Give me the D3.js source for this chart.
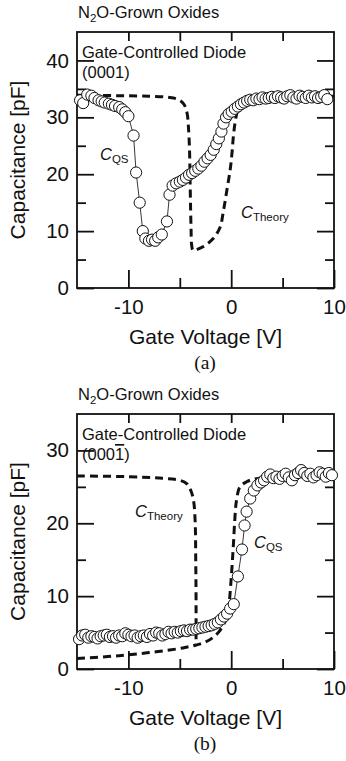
<!DOCTYPE html>
<html>
<head>
<meta charset="utf-8">
<script src="https://cdn.jsdelivr.net/npm/d3@7"></script>
<style>
  html, body { margin: 0; padding: 0; background: #fff; }
  svg { display: block; }
  text { fill: #111; }
</style>
</head>
<body>
<svg id="fig" width="346" height="761"></svg>
<script>
// ---- data -------------------------------------------------------------
const voltageMajor = [-10, 0, 10];
const voltageMinor = [-5, 5];
const capMajorA = [0, 10, 20, 30, 40];
const capMinorA = [5, 15, 25, 35];
const capMajorB = [0, 10, 20, 30];
const capMinorB = [5, 15, 25];

// (0001) face: quasi-static C-V
const qsVoltageA = [-14.7, -14.4, -14.0, -13.6, -13.3, -12.9, -12.6, -12.3, -11.9, -11.6,
  -11.3, -10.9, -10.6, -10.3, -10.0, -9.5, -9.25, -8.9, -8.6, -8.35,
  -8.0, -7.7, -7.4, -7.1, -6.75, -6.25, -6.0, -5.7, -5.35, -5.0,
  -4.7, -4.4, -4.1, -3.8, -3.5, -3.2, -2.9, -2.6, -2.3, -2.0,
  -1.7, -1.45, -1.2, -0.95, -0.75, -0.5, -0.25, 0.05, 0.35, 0.65,
  0.95, 1.25, 1.55, 1.85, 2.15, 2.45, 2.75, 3.05, 3.35, 3.65,
  3.95, 4.25, 4.55, 4.85, 5.15, 5.45, 5.75, 6.05, 6.35, 6.65,
  6.95, 7.25, 7.55, 7.85, 8.15, 8.45, 8.75, 9.05, 9.35];
const qsCapA = [33.0, 32.5, 34.0, 33.8, 33.4, 33.0, 32.8, 32.6, 32.4, 32.2,
  32.0, 31.8, 31.4, 30.9, 30.2, 26.8, 20.3, 15.0, 10.0, 8.7,
  8.3, 8.5, 8.3, 8.9, 9.4, 11.7, 16.4, 18.0, 18.4, 18.7,
  19.0, 19.4, 19.9, 20.2, 20.6, 21.0, 21.5, 22.2, 22.8, 23.4,
  24.3, 25.3, 26.3, 27.5, 28.9, 30.0, 30.6, 31.0, 31.5, 31.9,
  32.3, 32.6, 32.9, 33.1, 33.0, 33.3, 33.2, 33.5, 33.3, 33.4,
  33.6, 33.4, 33.7, 33.5, 33.3, 33.7, 33.9, 33.5, 33.3, 33.8,
  33.6, 33.4, 33.8, 33.5, 33.7, 33.4, 33.6, 33.9, 33.2];

// (0001) face: theoretical C-V
const theoryVoltageA = [-15, -11, -8, -6, -5.1, -4.6, -4.3, -4.15, -4.05, -4.0,
  -3.95, -3.9, -3.85, -3.7, -3.3, -2.7, -1.8, -1.1, -0.75, -0.42,
  -0.1, 0.07, 0.22, 0.39, 0.65, 1.2, 2.5, 5, 10];
const theoryCapA = [33.9, 33.8, 33.7, 33.5, 33.1, 32.3, 30.8, 28, 24, 19,
  14, 10, 7.6, 6.6, 6.8, 7.3, 8.6, 10.6, 13.6, 17.2,
  20.8, 23.6, 26.8, 29.2, 31.3, 32.6, 33.2, 33.5, 33.7];

// (000-1) face: quasi-static C-V
const qsVoltageB = [-14.8, -14.5, -14.2, -13.9, -13.6, -13.3, -13.0, -12.7, -12.4, -12.1,
  -11.8, -11.5, -11.2, -10.9, -10.6, -10.3, -10.0, -9.7, -9.4, -9.1,
  -8.8, -8.5, -8.2, -7.9, -7.6, -7.3, -7.0, -6.7, -6.4, -6.1,
  -5.8, -5.5, -5.2, -4.9, -4.6, -4.3, -4.0, -3.7, -3.4, -3.1,
  -2.8, -2.5, -2.2, -1.9, -1.6, -1.3, -1.0, -0.7, -0.4, -0.1,
  0.25, 0.65, 1.05, 1.3, 1.5, 1.85, 2.2, 2.55, 2.9, 3.2,
  3.5, 3.8, 4.1, 4.4, 4.7, 5.0, 5.3, 5.6, 5.9, 6.2,
  6.5, 6.8, 7.1, 7.4, 7.7, 8.0, 8.3, 8.6, 8.9, 9.2,
  9.5, 9.8];
const qsCapB = [4.1, 4.6, 4.7, 4.3, 4.5, 4.4, 4.2, 4.5, 4.6, 4.7,
  4.4, 4.5, 4.3, 4.6, 4.5, 4.9, 4.7, 4.5, 4.6, 4.3,
  4.5, 4.6, 4.4, 4.8, 4.6, 5.0, 4.9, 4.6, 4.8, 5.1,
  4.9, 5.1, 5.0, 5.2, 5.3, 5.2, 5.4, 5.4, 5.5, 5.6,
  5.7, 5.8, 5.9, 6.0, 6.2, 6.4, 6.8, 7.2, 7.6, 8.3,
  8.9, 12.7, 16.4, 19.7, 21.6, 23.4, 24.5, 25.2, 25.6, 25.9,
  26.4, 26.7, 26.2, 26.4, 26.1, 26.5, 26.8, 26.3, 25.9, 26.6,
  26.9, 27.3, 26.9, 26.5, 26.8, 26.3, 26.6, 27.0, 26.8, 26.4,
  26.9, 26.6];

// (000-1) face: theoretical C-V, lower and upper branches
const theoryLowVoltageB = [-15, -12, -10, -8, -6, -4.5, -3.4, -2.5, -1.8, -1.2,
  -0.7, -0.4, -0.2, -0.05, 0.1, 0.22, 0.35, 0.5, 0.85, 1.5, 2.3, 4, 10];
const theoryLowCapB = [1.45, 1.7, 1.95, 2.25, 2.6, 2.95, 3.3, 3.7, 4.3, 5.1,
  6.2, 7.2, 9.0, 11.5, 14.5, 17.2, 20.5, 23.0, 25.0, 25.7, 26.1, 26.3, 26.5];
const theoryHighVoltageB = [-15, -10, -7, -5, -4.3, -3.9, -3.65, -3.5, -3.45, -3.42, -3.42];
const theoryHighCapB = [26.5, 26.4, 26.2, 25.9, 25.4, 24.4, 23.0, 20.0, 15.0, 10.0, 3.3];

// ---- drawing ------------------------------------------------------------
const svg = d3.select("#fig");
const SANS = "'Liberation Sans', Arial, Helvetica, sans-serif";
const SERIF = "'Liberation Serif', 'Times New Roman', serif";
const plainNumber = d => String(d);   // ASCII hyphen for negatives

function pairs(xs, ys) { return xs.map((v, i) => [v, ys[i]]); }

function drawPanel(p) {
  const g = svg.append("g");
  const x = d3.scaleLinear().domain([-15, 10]).range([77, 334]);
  const y = d3.scaleLinear().domain([0, p.yMax]).range([p.bottom, p.top]);

  // inward ticks on all four sides
  const tickStyle = sel => {
    sel.select(".domain").remove();
    sel.selectAll(".tick line").attr("stroke", "#111").attr("stroke-width", 1.8);
    sel.selectAll(".tick text").attr("font-family", SANS).attr("font-size", 20.5).attr("fill", "#111");
  };
  g.append("g").attr("transform", `translate(0,${p.bottom})`)
    .call(d3.axisBottom(x).tickValues(voltageMajor).tickSize(-18).tickPadding(11).tickFormat(plainNumber))
    .call(tickStyle);
  g.append("g").attr("transform", `translate(0,${p.bottom})`)
    .call(d3.axisBottom(x).tickValues(voltageMinor).tickSize(-10).tickFormat(""))
    .call(tickStyle);
  g.append("g").attr("transform", `translate(0,${p.top})`)
    .call(d3.axisTop(x).tickValues([-10, -5, 0, 5]).tickSize(-9).tickFormat(""))
    .call(tickStyle);
  g.append("g").attr("transform", "translate(77,0)")
    .call(d3.axisLeft(y).tickValues(p.major).tickSize(-17).tickPadding(8).tickFormat(plainNumber))
    .call(tickStyle);
  g.append("g").attr("transform", "translate(77,0)")
    .call(d3.axisLeft(y).tickValues(p.minor).tickSize(-9).tickFormat(""))
    .call(tickStyle);
  g.append("g").attr("transform", "translate(334,0)")
    .call(d3.axisRight(y).tickValues(p.major).tickSize(-17).tickFormat(""))
    .call(tickStyle);
  g.append("g").attr("transform", "translate(334,0)")
    .call(d3.axisRight(y).tickValues(p.minor).tickSize(-9).tickFormat(""))
    .call(tickStyle);

  // frame
  g.append("rect").attr("x", 77).attr("y", p.top)
    .attr("width", 257).attr("height", p.bottom - p.top)
    .attr("fill", "none").attr("stroke", "#111").attr("stroke-width", 1.8);

  // theory curves (dashed)
  const curve = d3.line().x(d => x(d[0])).y(d => y(d[1])).curve(d3.curveCatmullRom.alpha(0.5));
  p.theory.forEach(t => {
    g.append("path").attr("d", curve(t)).attr("fill", "none")
      .attr("stroke", "#111").attr("stroke-width", 3)
      .attr("stroke-dasharray", "8,5");
  });

  // quasi-static data: thin connecting line and open circles
  const lin = d3.line().x(d => x(d[0])).y(d => y(d[1]));
  g.append("path").attr("d", lin(p.qs)).attr("fill", "none")
    .attr("stroke", "#222").attr("stroke-width", 0.9);
  g.selectAll("circle.qs").data(p.qs).join("circle")
    .attr("class", "qs")
    .attr("cx", d => x(d[0])).attr("cy", d => y(d[1])).attr("r", 5.6)
    .attr("fill", "#fff").attr("stroke", "#111").attr("stroke-width", 1);

  // header and annotations
  const title = g.append("text").attr("x", 78).attr("y", p.titleY)
    .attr("font-family", SANS).attr("font-size", 16.5);
  title.append("tspan").text("N");
  title.append("tspan").attr("font-size", 11.5).attr("dy", 4).text("2");
  title.append("tspan").attr("dy", -4).text("O-Grown Oxides");

  g.append("text").attr("x", 82).attr("y", p.top + 26)
    .attr("font-family", SANS).attr("font-size", 16.5).text("Gate-Controlled Diode");
  const face = g.append("text").attr("x", 82).attr("y", p.top + 46)
    .attr("font-family", SANS).attr("font-size", 16.5);
  if (p.barred) {
    face.append("tspan").text("(000");
    face.append("tspan").style("text-decoration", "overline").text("1");
    face.append("tspan").text(")");
  } else {
    face.text("(0001)");
  }

  p.labels.forEach(l => {
    const t = g.append("text").attr("x", l.x).attr("y", l.y).attr("font-family", SANS);
    t.append("tspan").attr("font-style", "italic").attr("font-size", 16.5).text("C");
    t.append("tspan").attr("font-size", 11.5).attr("dy", 3).text(l.sub);
  });

  g.append("text").attr("x", 205.5).attr("y", p.bottom + 56)
    .attr("text-anchor", "middle").attr("font-family", SANS).attr("font-size", 21)
    .text("Gate Voltage [V]");
  g.append("text")
    .attr("transform", `translate(25,${(p.top + p.bottom) / 2}) rotate(-90)`)
    .attr("text-anchor", "middle").attr("font-family", SANS).attr("font-size", 21)
    .text("Capacitance [pF]");
  g.append("text").attr("x", 205).attr("y", p.bottom + 81)
    .attr("text-anchor", "middle").attr("font-family", SERIF).attr("font-size", 19.5)
    .text(p.tag);
}

drawPanel({
  top: 32, bottom: 288, yMax: 45, major: capMajorA, minor: capMinorA,
  titleY: 18, tag: "(a)", barred: false,
  qs: pairs(qsVoltageA, qsCapA),
  theory: [pairs(theoryVoltageA, theoryCapA)],
  labels: [{ x: 100, y: 160, sub: "QS" }, { x: 241, y: 218, sub: "Theory" }]
});

drawPanel({
  top: 414, bottom: 669, yMax: 35, major: capMajorB, minor: capMinorB,
  titleY: 400, tag: "(b)", barred: true,
  qs: pairs(qsVoltageB, qsCapB),
  theory: [pairs(theoryLowVoltageB, theoryLowCapB), pairs(theoryHighVoltageB, theoryHighCapB)],
  labels: [{ x: 135, y: 517, sub: "Theory" }, { x: 254, y: 548, sub: "QS" }]
});
</script>
</body>
</html>
